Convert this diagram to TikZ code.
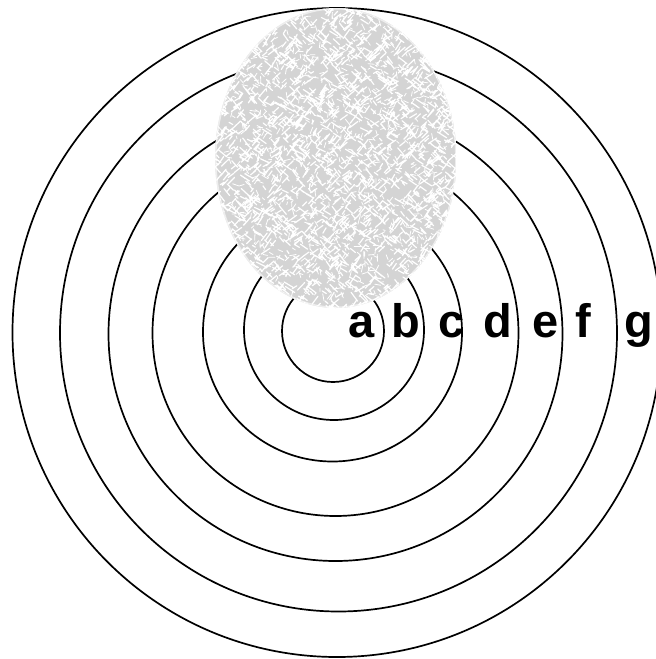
\documentclass[tikz,border=0pt]{standalone}
\usepackage{fontspec}
\setmainfont{Liberation Sans}
\begin{document}
\begin{tikzpicture}[x=1pt,y=-1pt,
  ring/.style={draw=black,line width=1.7pt},
  lbl/.style={font=\fontsize{47}{47}\selectfont\bfseries,anchor=base,inner sep=0pt},
  speck/.style={draw=white,line width=1.2pt,line cap=round}]
\useasboundingbox (0,0) rectangle (656,659);
\clip (0,0) rectangle (656,659);
\fill[white] (0,0) rectangle (656,659);
% rings
\draw[ring] (333,331) circle [radius=51];
\draw[ring] (334,330) circle [radius=90];
\draw[ring] (332.5,332) circle [radius=129.5];
\draw[ring] (335.5,333) circle [radius=183];
\draw[ring] (335.5,334) circle [radius=227];
\draw[ring] (338.5,333) circle [radius=278.5];
\draw[ring] (337,332.5) circle [radius=324.5];
% textured blob
\begin{scope}
  \clip (335.8,158) ellipse [x radius=120.8, y radius=150];
  \fill[color={rgb,255:red,212;green,212;blue,212}] (335.8,158) ellipse [x radius=121, y radius=150];
  \pgfmathsetseed{7}
  \draw[speck] \foreach \i [evaluate=\i as \px using 212+248*rnd,
                            evaluate=\i as \py using 5+306*rnd,
                            evaluate=\i as \pa using (rnd<0.5 ? 40 : -45)+30*(rnd-0.5),
                            evaluate=\i as \pl using 3+8*rnd] in {1,...,2200}
     {(\px,\py) -- ++(\pa:\pl)};
  \draw[draw=white,line width=0.8pt,line cap=round] \foreach \i [evaluate=\i as \px using 212+248*rnd,
                            evaluate=\i as \py using 5+306*rnd,
                            evaluate=\i as \pa using 360*rnd,
                            evaluate=\i as \pl using 2+5*rnd] in {1,...,1400}
     {(\px,\py) -- ++(\pa:\pl)};
  \draw[white,line width=3pt,opacity=0.6] (335.8,158) ellipse [x radius=120.8, y radius=150];
\end{scope}
% labels
\node[lbl] (la) at (361.5,337) {a};
\node[lbl] (lb) at (405.5,337) {b};
\node[lbl] (lc) at (451.7,337) {c};
\node[lbl] (ld) at (498,337) {d};
\node[lbl] (le) at (545.8,337) {e};
\node[lbl] (lf) at (583,337) {f};
\node[lbl] (lg) at (639,337) {g};
\end{tikzpicture}
\end{document}
